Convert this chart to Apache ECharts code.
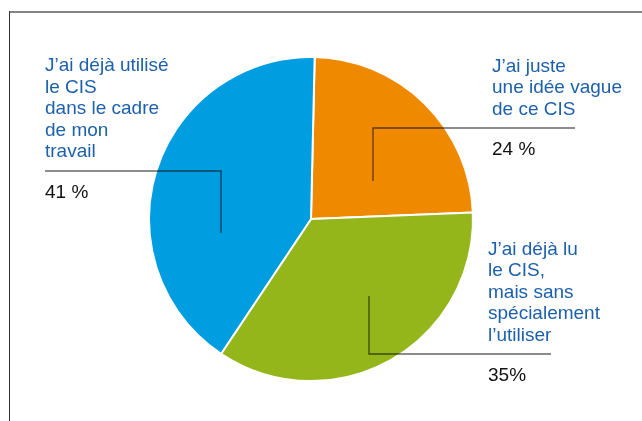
<!DOCTYPE html>
<html>
<head>
<meta charset="utf-8">
<script src="https://cdn.jsdelivr.net/npm/echarts@6/dist/echarts.min.js"></script>
<style>
html,body{margin:0;padding:0;background:#fff;}
#chart{width:642px;height:421px;}
</style>
</head>
<body>
<div id="chart"></div>
<script>
// ---- data ----
const categories = [
  "J’ai juste\nune idée vague\nde ce CIS",
  "J’ai déjà lu\nle CIS,\nmais sans\nspécialement\nl’utiliser",
  "J’ai déjà utilisé\nle CIS\ndans le cadre\nde mon\ntravail"
];
const values = [24, 35, 41];
const percentLabels = ["24 %", "35%", "41 %"];
const colors = ["#EF8A00", "#95B61A", "#009EE0"];

// ---- label placement (layout only) ----
const placements = [
  { x: 492, y: 56, line: [[373, 181], [373, 128], [575, 128]] },
  { x: 488, y: 239, line: [[369, 296], [369, 354], [551, 354]] },
  { x: 45, y: 55.5, line: [[221, 233], [221, 171], [45, 171]] }
];

const chart = echarts.init(document.getElementById('chart'), null, { renderer: 'canvas' });

const pieBase = {
  type: 'pie',
  center: [311, 219],
  radius: 162,
  startAngle: 88.7,
  clockwise: true,
  avoidLabelOverlap: false,
  emphasis: { disabled: true }
};

const option = {
  animation: false,
  backgroundColor: '#fff',
  graphic: [
    { type: 'line', shape: { x1: 10, y1: 12, x2: 642, y2: 12 }, style: { stroke: '#858585', lineWidth: 2 } },
    { type: 'line', shape: { x1: 9.5, y1: 11, x2: 9.5, y2: 421 }, style: { stroke: '#333', lineWidth: 1 } }
  ],
  series: [
    Object.assign({}, pieBase, {
      z: 2,
      itemStyle: { borderColor: '#fff', borderWidth: 2 },
      label: { show: false },
      labelLine: { show: false },
      data: categories.map((c, i) => ({ name: c, value: values[i], itemStyle: { color: colors[i] } }))
    }),
    Object.assign({}, pieBase, {
      z: 5,
      silent: true,
      itemStyle: { color: 'rgba(0,0,0,0)', borderWidth: 0 },
      label: {
        show: true,
        position: 'outside',
        fontFamily: 'Liberation Sans, Arial, sans-serif',
        formatter: function (p) {
          return '{t|' + p.name + '}\n{p|' + percentLabels[p.dataIndex] + '}';
        },
        rich: {
          t: { color: '#1D60AB', fontSize: 19, lineHeight: 21.5, fontFamily: 'Liberation Sans' },
          p: { color: '#111', fontSize: 19, lineHeight: 59.5, fontFamily: 'Liberation Sans' }
        }
      },
      labelLine: {
        show: true,
        length: 10,
        length2: 10,
        lineStyle: { color: 'rgba(0,0,0,0.6)', width: 1.3 }
      },
      labelLayout: function (p) {
        const L = placements[p.dataIndex];
        return { x: L.x, y: L.y, align: 'left', verticalAlign: 'top', labelLinePoints: L.line };
      },
      data: categories.map((c, i) => ({ name: c, value: values[i] }))
    })
  ]
};
chart.setOption(option);
</script>
</body>
</html>
